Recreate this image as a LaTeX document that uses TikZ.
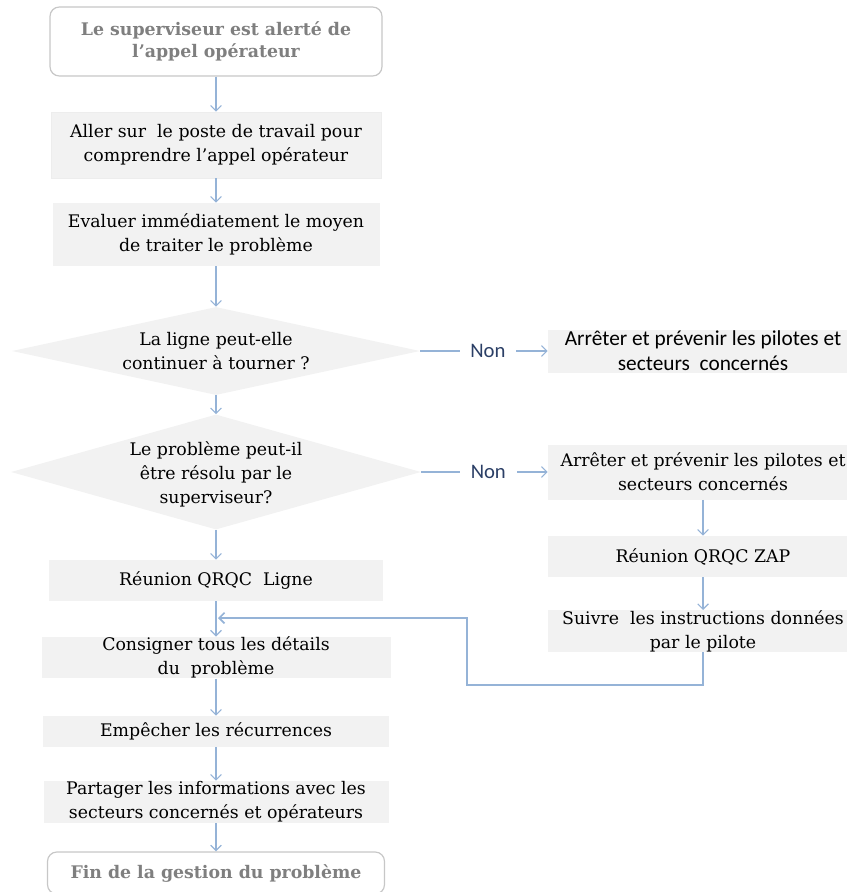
\documentclass[tikz,border=0pt]{standalone}
\usepackage{fontspec}
\setmainfont{DejaVu Serif}
\newfontfamily\nonfont{Carlito}
\usetikzlibrary{arrows.meta,shapes.geometric}
\definecolor{boxGray}{HTML}{F2F2F2}
\definecolor{flowBlue}{HTML}{95B3D7}
\definecolor{nonBlue}{HTML}{2B3F66}
\definecolor{endGray}{HTML}{7F7F7F}

\begin{document}
\begin{tikzpicture}[
  x=0.75pt, y=-0.75pt,
  every node/.style={font=\fontsize{13}{18}\selectfont, align=center, inner sep=0pt},
  endBox/.style={draw=black!22, line width=0.9pt, rounded corners=7pt, fill=white,
    text=endGray, font=\bfseries\fontsize{13}{17}\selectfont},
  stepBox/.style={fill=boxGray},
  decisionD/.style={diamond, fill=boxGray},
  flowArrow/.style={draw=flowBlue, line width=0.9pt, -{Straight Barb[length=4pt,width=8pt]}},
  nonLabel/.style={fill=white, inner xsep=8pt, inner ysep=2pt, text=nonBlue,
    font=\nonfont\fontsize{15.5}{16}\selectfont}
]
  \useasboundingbox (0,0) rectangle (846,892);

  % --- Colonne principale ---
  \node (start) [endBox, minimum width=249pt, minimum height=51.75pt] at (216,41.5)
    {Le superviseur est alerté de\\l’appel opérateur};
  \node (aller) [stepBox, draw=black!7, minimum width=247.5pt, minimum height=49.5pt] at (216,145)
    {Aller sur\ \ le poste de travail pour\\comprendre l’appel opérateur};
  \node (evaluer) [stepBox, minimum width=245.25pt, minimum height=47.25pt] at (216,234.5)
    {Evaluer immédiatement le moyen\\de traiter le problème};

  \node (q1) [decisionD, minimum width=306pt, minimum height=66pt] at (216,351) {};
  \node (q1txt) at (q1) {La ligne peut-elle\\continuer à tourner ?};
  \node (q2) [decisionD, minimum width=307.5pt, minimum height=86.25pt] at (216,472) {};
  \node (q2txt) [yshift=-2pt] at (q2) {Le problème peut-il\\être résolu par le\\superviseur?};

  \node (ligne) [stepBox, minimum width=250.5pt, minimum height=30.75pt] at (216,580.5)
    {Réunion QRQC\ \ Ligne};
  \node (consigner) [stepBox, minimum width=261.75pt, minimum height=30.75pt] at (216,657.5)
    {Consigner tous les détails\\du\ \ problème};
  \node (empecher) [stepBox, minimum width=259.5pt, minimum height=23.25pt] at (216,731.5)
    {Empêcher les récurrences};
  \node (partager) [stepBox, minimum width=258.75pt, minimum height=31.5pt] at (216,802)
    {Partager les informations avec les\\secteurs concernés et opérateurs};
  \node (fin) [endBox, minimum width=252.75pt, minimum height=31.5pt] at (216,873)
    {Fin de la gestion du problème};

  % --- Colonne de droite ---
  \node (arret1) [stepBox, minimum width=232.5pt, minimum height=32.25pt,
    font=\nonfont\fontsize{16}{18.5}\selectfont] at (703,351)
    {Arrêter et prévenir les pilotes et\\secteurs\ \ concernés};
  \node (arret2) [stepBox, minimum width=232.5pt, minimum height=41.25pt] at (703,472)
    {Arrêter et prévenir les pilotes et\\secteurs concernés};
  \node (zap) [stepBox, minimum width=232.5pt, minimum height=30.75pt] at (703,556.5)
    {Réunion QRQC ZAP};
  \node (suivre) [stepBox, minimum width=232.5pt, minimum height=30pt] at (703,631)
    {Suivre\ \ les instructions données\\par le pilote};

  % --- Fleches ---
  \draw[flowArrow] (start) -- (aller);
  \draw[flowArrow] (aller) -- (evaluer);
  \draw[flowArrow] (evaluer) -- (q1);
  \draw[flowArrow] (q1) -- (q2);
  \draw[flowArrow] (q2) -- (ligne);
  \draw[flowArrow] (ligne) -- (consigner);
  \draw[flowArrow] (consigner) -- (empecher);
  \draw[flowArrow] (empecher) -- (partager);
  \draw[flowArrow] (partager) -- (fin);

  \draw[flowArrow] (q1.east) -- node[nonLabel, pos=0.53] {Non} (arret1.west);
  \draw[flowArrow] (q2.east) -- node[nonLabel, pos=0.53] {Non} (arret2.west);
  \draw[flowArrow] (arret2) -- (zap);
  \draw[flowArrow] (zap) -- (suivre);

  % retour vers la colonne principale
  \coordinate (coin) at (467,685);
  \coordinate (retour) at (218,618);
  \draw[flowArrow, line width=1.3pt] (suivre) |- (coin) |- (retour);
\end{tikzpicture}
\end{document}
